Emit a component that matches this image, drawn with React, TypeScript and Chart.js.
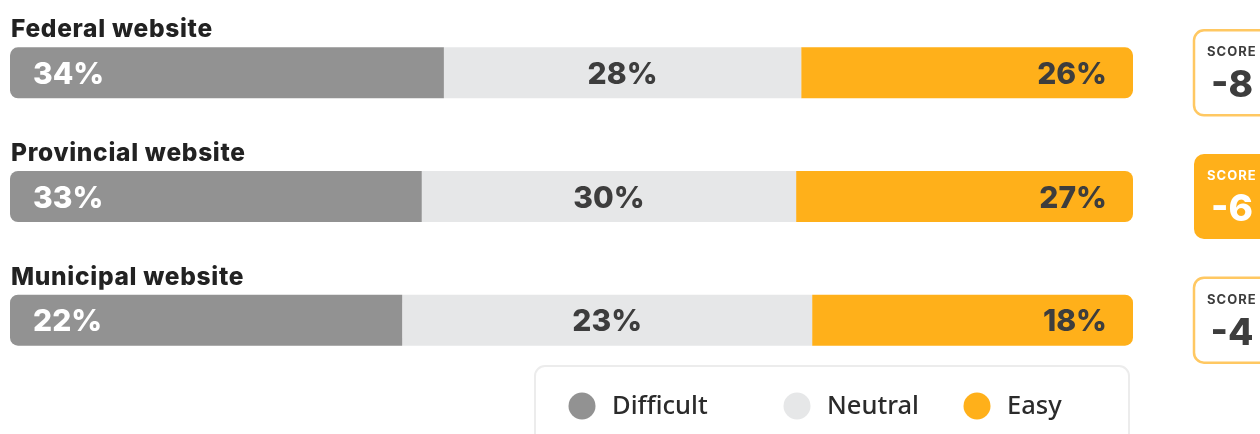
import React, { useEffect, useRef } from 'react';
import { Chart, registerables } from 'chart.js';

Chart.register(...registerables);

const categories = ['Federal website', 'Provincial website', 'Municipal website'];
const seriesLabels = ['Difficult', 'Neutral', 'Easy'];
const difficult = [34, 33, 22];
const neutral = [28, 30, 23];
const easy = [26, 27, 18];
const scores = [-8, -6, -4];
const highlighted = [false, true, false];

const seriesColors = ['#929292', '#e6e7e8', '#ffb01a'];
const labelColors = ['#ffffff', '#3d3d3d', '#3d3d3d'];

const FONT = 'Inter, "Noto Sans", sans-serif';

function roundRect(ctx: CanvasRenderingContext2D, x: number, y: number, w: number, h: number, r: number) {
  ctx.beginPath();
  ctx.moveTo(x + r, y);
  ctx.lineTo(x + w - r, y);
  ctx.arcTo(x + w, y, x + w, y + r, r);
  ctx.lineTo(x + w, y + h - r);
  ctx.arcTo(x + w, y + h, x + w - r, y + h, r);
  ctx.lineTo(x + r, y + h);
  ctx.arcTo(x, y + h, x, y + h - r, r);
  ctx.lineTo(x, y + r);
  ctx.arcTo(x, y, x + r, y, r);
  ctx.closePath();
}

const overlayPlugin = {
  id: 'overlay',
  afterDatasetsDraw(chart: any) {
    const ctx: CanvasRenderingContext2D = chart.ctx;
    const raw = [difficult, neutral, easy];
    ctx.save();
    // titles
    const meta0 = chart.getDatasetMeta(0);
    meta0.data.forEach((el: any, i: number) => {
      const top = el.y - el.height / 2;
      ctx.font = `800 24.5px ${FONT}`;
      (ctx as any).letterSpacing = '0.7px';
      ctx.fillStyle = '#222222';
      ctx.textAlign = 'left';
      ctx.textBaseline = 'alphabetic';
      ctx.fillText(categories[i], 11, top - 10);
      (ctx as any).letterSpacing = '0px';
    });
    // value labels
    chart.data.datasets.forEach((ds: any, d: number) => {
      const meta = chart.getDatasetMeta(d);
      meta.data.forEach((el: any, i: number) => {
        const text = raw[d][i] + '%';
        ctx.font = `800 30px ${FONT}`;
        ctx.fillStyle = labelColors[d];
        ctx.textBaseline = 'middle';
        let x: number;
        if (d === 0) {
          ctx.textAlign = 'left';
          x = el.base + 23;
        } else if (d === 1) {
          ctx.textAlign = 'center';
          x = (el.base + el.x) / 2;
        } else {
          ctx.textAlign = 'right';
          x = el.x - 26;
        }
        ctx.fillText(text, x, el.y + 2);
      });
    });
    // score boxes
    meta0.data.forEach((el: any, i: number) => {
      const bx = 1194;
      const bw = 84;
      const bh = 85;
      const by = el.y - bh / 2;
      roundRect(ctx, bx, by, bw, bh, 10);
      if (highlighted[i]) {
        ctx.fillStyle = '#ffb01a';
        ctx.fill();
      } else {
        ctx.fillStyle = '#ffffff';
        ctx.fill();
        ctx.strokeStyle = '#ffc862';
        ctx.lineWidth = 2.5;
        ctx.stroke();
      }
      const tc = highlighted[i] ? '#ffffff' : '#3d3d3d';
      ctx.fillStyle = tc;
      ctx.textAlign = 'left';
      ctx.textBaseline = 'alphabetic';
      ctx.font = `700 13px ${FONT}`;
      (ctx as any).letterSpacing = '1px';
      ctx.fillText('SCORE', 1207, by + 26);
      (ctx as any).letterSpacing = '0px';
      ctx.textAlign = 'center';
      ctx.font = `800 37px ${FONT}`;
      ctx.fillText(String(scores[i]), 1232, by + 67);
    });
    // legend
    const lx = 535;
    const ly = 366;
    roundRect(ctx, lx, ly, 594, 110, 10);
    ctx.fillStyle = '#ffffff';
    ctx.fill();
    ctx.strokeStyle = '#ececec';
    ctx.lineWidth = 2;
    ctx.stroke();
    const circleX = [582, 797, 977];
    const cy = 406;
    seriesLabels.forEach((lab, k) => {
      ctx.beginPath();
      ctx.arc(circleX[k], cy, 13.5, 0, Math.PI * 2);
      ctx.fillStyle = seriesColors[k];
      ctx.fill();
      ctx.font = `500 25.5px "Noto Sans", sans-serif`;
      ctx.fillStyle = '#2b2b2b';
      ctx.textAlign = 'left';
      ctx.textBaseline = 'middle';
      ctx.fillText(lab, circleX[k] + 30, cy + 1);
    });
    ctx.restore();
  },
};

export default function App() {
  const ref = useRef<HTMLCanvasElement | null>(null);
  useEffect(() => {
    if (!ref.current) return;
    const series = [difficult, neutral, easy];
    const totals = categories.map((_, i) => difficult[i] + neutral[i] + easy[i]);
    const chart = new Chart(ref.current, {
      type: 'bar',
      data: {
        labels: categories,
        datasets: series.map((vals, d) => ({
          label: seriesLabels[d],
          data: vals.map((v, i) => (v / totals[i]) * 100),
          backgroundColor: seriesColors[d],
          borderWidth: 0,
          borderSkipped: false,
          barThickness: 51,
          inflateAmount: 0,
          borderRadius:
            d === 0
              ? { topLeft: 8, bottomLeft: 8, topRight: 0, bottomRight: 0 }
              : d === 2
              ? { topLeft: 0, bottomLeft: 0, topRight: 8, bottomRight: 8 }
              : 0,
        })),
      },
      options: {
        indexAxis: 'y',
        responsive: false,
        animation: false,
        devicePixelRatio: 1,
        layout: { padding: { left: 10, right: 127, top: 11, bottom: 52 } },
        scales: {
          x: { stacked: true, min: 0, max: 100, display: false },
          y: { stacked: true, display: false },
        },
        plugins: {
          legend: { display: false },
          tooltip: { enabled: false },
        },
      },
      plugins: [overlayPlugin],
    } as any);
    return () => chart.destroy();
  }, []);
  return (
    <div style={{ position: 'absolute', left: 0, top: 0, width: 1260, height: 434, background: '#ffffff' }}>
      <canvas ref={ref} width={1260} height={434} style={{ width: 1260, height: 434, display: 'block' }} />
    </div>
  );
}
